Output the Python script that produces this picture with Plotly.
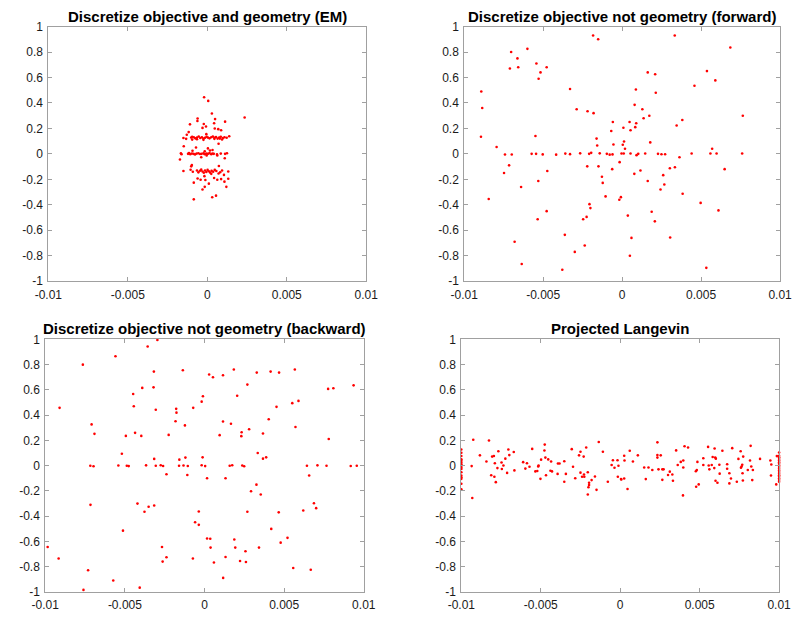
import plotly.graph_objects as go

# x values are given in units of 1e-3 (X_UNIT), y values in plain units
X_UNIT = 1e-3

titles = [
    "Discretize objective and geometry (EM)",
    "Discretize objective not geometry (forward)",
    "Discretize objective not geometry (backward)",
    "Projected Langevin",
]

x_tick_vals = [-0.01, -0.005, 0, 0.005, 0.01]
x_tick_text = ["-0.01", "-0.005", "0", "0.005", "0.01"]
y_tick_vals = [-1, -0.8, -0.6, -0.4, -0.2, 0, 0.2, 0.4, 0.6, 0.8, 1]
y_tick_text = ["-1", "-0.8", "-0.6", "-0.4", "-0.2", "0", "0.2", "0.4", "0.6", "0.8", "1"]

# ---------------- Panel 1: EM ----------------
em_x = [
    -0.20, 0.06, 2.35, 0.29, -0.61, 0.49, 1.12, -0.62, -1.09, -0.22, -0.08, 0.43, -0.30, 0.47, 0.69, 0.87,
    -1.17, -1.29, -0.06,
    -1.50, -1.33, -1.01, -0.95, -0.85, -0.75, -0.65, -0.54, -0.44, -0.34, -0.24, -0.14, -0.04, 0.04,
    0.14, 0.25, 0.35, 0.45, 0.55, 0.65, 0.75, 0.85, 0.98, 1.08, 1.22, 1.38,
    -0.95, -0.65, -0.24, 0.45, 0.79, 0.93,
    -1.48, 0.71, -0.71, 0.04, 0.17, -0.93, -0.16, 0.33,
    -1.66, -1.62, -1.21, -1.15, -1.07, -0.97, -0.87, -0.77, -0.67, -0.56, -0.46, -0.36, -0.24, -0.16,
    -0.06, 0.04, 0.14, 0.25, 0.33, 0.41, 0.61, 0.85, 1.12, 1.24,
    -1.72, -0.38, -0.04, 0.63, 1.10, -0.97, -1.01, 0.73,
    -1.50, -1.05, -0.91, -0.65, -0.56, -0.46, -0.38, -0.30, -0.22, -0.14, -0.06, 0.02, 0.10, 0.18,
    0.27, 0.37, 0.47, 0.57, 0.81, 0.93, 1.32,
    0.25, -0.18, 0.71, 0.43, 0.63, 0.87, 1.05, 1.32, -0.61, -0.42, -0.12, 1.08, -0.85, 0.10, 1.20,
    -0.16, -0.30, 0.55, 0.31, -0.85,
]
em_y = [
    0.445, 0.416, 0.286, 0.317, 0.278, 0.273, 0.253, 0.258, 0.232, 0.235, 0.215, 0.240, 0.204, 0.199, 0.194, 0.186,
    0.171, 0.150, 0.155,
    0.125, 0.118, 0.128, 0.135, 0.130, 0.122, 0.128, 0.136, 0.125, 0.131, 0.120, 0.127, 0.134, 0.128,
    0.122, 0.130, 0.137, 0.126, 0.132, 0.120, 0.129, 0.135, 0.124, 0.130, 0.127, 0.138,
    0.112, 0.115, 0.110, 0.118, 0.120, 0.113,
    0.060, 0.079, 0.050, 0.043, 0.027, 0.025, 0.020, 0.030,
    0.004, -0.003, 0.000, 0.006, -0.002, 0.003, 0.000, -0.004, 0.002, 0.005, -0.001, 0.000, 0.004, -0.003,
    0.002, 0.000, 0.006, -0.002, 0.003, 0.000, -0.004, 0.002, 0.000, 0.005,
    -0.044, -0.027, -0.013, -0.013, -0.034, -0.088, -0.098, -0.095,
    -0.135, -0.125, -0.140, -0.130, -0.145, -0.133, -0.124, -0.138, -0.148, -0.130, -0.142, -0.126, -0.136, -0.147,
    -0.132, -0.140, -0.126, -0.135, -0.144, -0.130, -0.138,
    -0.157, -0.175, -0.154, -0.190, -0.203, -0.198, -0.165, -0.195, -0.193, -0.203, -0.205, -0.218, -0.226, -0.234, -0.259,
    -0.259, -0.280, -0.328, -0.341, -0.357,
]

# ---------------- Panel 2: forward ----------------
fwd_x = [
    -1.84, -1.52, -7.03, -6.00, -6.63, -7.11, -6.58, -5.43, -5.17, -4.78, -5.29, -8.92, -3.30, -8.86, -2.88,
    -2.19, -1.81, -0.59, -0.69, -8.94, -5.49, -1.62, -1.58, -0.55, -7.95,
    3.33, 6.85, 1.62, 2.09, 5.37, 5.90, 4.58, 0.87, 2.13, 0.79, 1.28, 1.72, 1.36, 7.64, 3.81, 3.45, 0.47,
    0.89, 0.08, 0.83, 0.53, 0.12, 0.04, 0.18, 1.78, 5.70,
    -7.42, -6.99, -5.73, -5.45, -5.03, -4.18, -3.60, -3.30, -2.66, -2.09, -1.96, -1.42, -0.97, -0.79, -0.61,
    -0.04, 0.10, 0.53, 0.91, 1.02, 1.46, 2.27, 2.49, 2.72, 3.63, 4.40, 5.59, 5.98, 7.60,
    -0.16, -7.16, -2.21, -1.50, -0.63, -7.48, -4.74, -1.28, -5.31, -1.23, -6.40, -1.05, -0.08, -0.18, -8.45,
    -2.07, -2.01, -4.78, -2.25, -2.47, -5.35, -3.63, -6.81, -2.37, -3.00, -6.36, -3.79,
    0.77, 1.16, 3.02, 3.34, 2.60, 6.49, 1.62, 2.67, 2.43, 3.83, 4.97, 6.10, 1.87, 0.36, 2.07, 0.59, 3.04,
    0.49, 5.33,
]
fwd_y = [
    0.930, 0.900, 0.800, 0.825, 0.750, 0.670, 0.680, 0.710, 0.640, 0.680, 0.590, 0.490, 0.510, 0.360, 0.350,
    0.335, 0.320, 0.250, 0.180, 0.135, 0.140, 0.120, 0.066, 0.074, 0.054,
    0.930, 0.835, 0.640, 0.625, 0.650, 0.577, 0.535, 0.505, 0.480, 0.385, 0.350, 0.300, 0.280, 0.300, 0.266,
    0.223, 0.250, 0.240, 0.205, 0.210, 0.185, 0.097, 0.072, 0.040, 0.090, 0.040,
    -0.005, -0.005, 0.000, 0.000, -0.004, -0.006, 0.002, -0.002, 0.004, 0.000, 0.008, 0.004, 0.000, -0.006, -0.004,
    0.003, 0.003, 0.003, -0.010, 0.000, 0.003, 0.000, -0.003, -0.003, -0.026, 0.003, 0.003, 0.003, 0.003,
    -0.065, -0.090, -0.098, -0.098, -0.120, -0.150, -0.134, -0.180, -0.213, -0.228, -0.260, -0.334, -0.340, -0.360, -0.354,
    -0.395, -0.426, -0.450, -0.495, -0.513, -0.513, -0.636, -0.690, -0.720, -0.770, -0.865, -0.910,
    -0.157, -0.130, -0.113, -0.105, -0.167, -0.120, -0.213, -0.240, -0.280, -0.313, -0.385, -0.444, -0.454, -0.485,
    -0.530, -0.660, -0.657, -0.800, -0.895,
]

# ---------------- Panel 3: backward ----------------
bwd_x = [
    -2.96, -3.57, -5.59, -7.64, -1.36, -3.18, -3.91, -3.20, -4.48, -0.10, -0.18, -9.10, -4.44, -3.06, -1.78,
    -0.71, -1.76, -1.82, -7.09, -1.23, -6.91, -4.36, -4.94, -3.97, -2.25, -5.19, -3.16, -1.58, -1.20, -0.12,
    1.84, 0.29, 0.53, 1.16, 3.28, 4.15, 4.68, 5.67, 2.69, 7.76, 8.09, 9.36, 2.05, 5.51, 5.90, 4.52, 4.03,
    1.16, 1.66, 5.71, 2.80, 2.33, 2.31, 0.95, 3.67, 7.80, 3.34, 3.87, 3.67,
    -7.17, -6.97, -5.41, -4.88, -4.76, -3.67, -3.06, -2.75, -2.60, -1.60, -1.32, -1.05, -0.18, 0.04, 1.58,
    1.74, 2.37, 2.49, 6.43, 7.09, 7.66, 9.18, 9.56,
    -2.39, -1.08, 0.16, -7.16, -4.21, -3.51, -3.16, -3.77, -0.36, -0.59, -0.36, -5.12, 0.16, -9.85, -2.67,
    -9.16, -2.39, -2.63, -0.73, -7.31, -5.73, -7.60, -4.07,
    1.32, 6.57, 3.26, 2.92, 3.53, 6.87, 7.01, 6.20, 2.69, 4.66, 4.19, 0.36, 1.87, 5.21, 4.78, 0.38, 1.93,
    2.57, 3.42, 1.32, 0.59, 2.23, 2.60, 5.57, 6.67, 1.17,
]
bwd_y = [
    0.995, 0.943, 0.866, 0.800, 0.755, 0.745, 0.616, 0.620, 0.567, 0.550, 0.507, 0.458, 0.471, 0.443, 0.450,
    0.458, 0.420, 0.352, 0.327, 0.319, 0.252, 0.260, 0.236, 0.236, 0.244, 0.095, 0.054, 0.048, 0.064, 0.066,
    0.762, 0.722, 0.700, 0.716, 0.737, 0.745, 0.737, 0.762, 0.642, 0.608, 0.613, 0.636, 0.554, 0.495, 0.513,
    0.466, 0.368, 0.350, 0.332, 0.306, 0.288, 0.265, 0.234, 0.242, 0.255, 0.211, 0.100, 0.066, 0.056,
    0.000, -0.004, 0.002, 0.000, -0.003, 0.003, 0.000, 0.004, -0.002, 0.000, 0.002, -0.002, 0.004, -0.003, 0.000,
    0.004, 0.002, -0.004, 0.000, 0.003, 0.000, -0.002, 0.000,
    -0.068, -0.073, -0.099, -0.310, -0.300, -0.325, -0.315, -0.364, -0.362, -0.447, -0.468, -0.514, -0.576, -0.643,
    -0.643, -0.735, -0.725, -0.759, -0.735, -0.828, -0.909, -0.983, -0.965,
    -0.099, -0.078, -0.150, -0.202, -0.228, -0.297, -0.336, -0.354, -0.364, -0.369, -0.500, -0.578, -0.584,
    -0.571, -0.609, -0.648, -0.648, -0.677, -0.648, -0.723, -0.766, -0.754, -0.762, -0.810, -0.824, -0.888,
]

# ---------------- Panel 4: projected Langevin ----------------
pl_x = [
    -9.25, -8.26, -4.75, -1.35, -5.54, -3.05, -2.14, -1.09, -7.04, -6.70, -7.67, -4.77, -2.50, -8.83, -8.06,
    -7.95, -6.98, -2.59, -2.30, -7.23, -8.42, -7.47, -7.89, -4.98, -4.71, -4.53, -4.35, -6.11, -5.87, -3.92,
    -3.82, -3.52, -0.46, -0.17, -0.54, -0.36, -0.11, -9.35, -7.73, -7.35, -7.45, -5.97, -5.71, -6.66, -5.14,
    -5.16, -5.22, -5.34, -4.39, -4.29, -7.12, -8.12, -7.92, -3.94, -3.42, -4.67, -5.02, -2.97, -2.50, -2.04,
    -2.28, -2.40, -2.26, -2.83, -1.59, -1.80, -3.52, -1.96, -1.96, -2.00, -1.49, -2.04, -0.78, -0.15, 0.07,
    -7.83, -9.31,
    -10.0, -10.0, -10.0, -10.0, -10.0, -10.0, -10.0, -10.0, -10.0, -10.0, -10.0, -10.0, -10.0, -10.0, -10.0, -10.0,
    2.34, 8.21, 4.05, 4.27, 5.53, 5.94, 7.05, 0.60, 3.52, 6.43, 7.58, 0.25, 1.11, 2.34, 2.55, 2.34, 5.82,
    5.98, 6.02, 7.74, 7.44, 8.80, 9.45, 0.27, 0.80, 3.81, 3.97, 4.86, 5.23, 8.17, 3.62, 5.57, 5.76, 6.24,
    6.73, 5.23, 7.68, 7.64, 7.60, 8.25, 9.51, 1.51, 1.78, 2.02, 2.41, 2.65, 2.73, 3.97, 4.82, 4.76, 5.61,
    5.92, 6.73, 8.03, 8.35, 3.12, 3.01, 3.28, 6.26, 6.87, 7.70, 9.49, 0.05, 0.25, 1.61, 2.65, 3.32, 6.97,
    6.00, 6.12, 7.34, 7.72, 8.31, 6.87, 4.94, 4.78, 9.82, 0.46, 3.95, 9.86,
    10.0, 10.0, 10.0, 10.0, 10.0, 10.0, 10.0, 10.0, 10.0, 10.0, 10.0, 10.0, 10.0, 10.0, 10.0, 10.0, 10.0, 10.0,
]
pl_y = [
    0.206, 0.200, 0.167, 0.188, 0.133, 0.131, 0.144, 0.110, 0.128, 0.108, 0.115, 0.120, 0.110, 0.082, 0.072,
    0.077, 0.084, 0.082, 0.072, 0.056, 0.033, 0.025, 0.020, 0.048, 0.064, 0.050, 0.033, 0.028, 0.020, 0.017,
    0.017, 0.035, 0.043, 0.043, 0.005, -0.016, 0.000, -0.003, -0.019, 0.002, -0.026, -0.023, -0.008, -0.037, 0.001,
    -0.006, -0.042, -0.045, -0.040, -0.045, -0.057, -0.075, -0.088, -0.065, -0.065, -0.075, -0.104, -0.008, -0.055, -0.052,
    -0.070, -0.088, -0.088, -0.099, -0.086, -0.114, -0.127, -0.135, -0.153, -0.171, -0.191, -0.228, -0.127, -0.088, -0.109,
    -0.130, -0.256,
    0.128, 0.103, 0.077, 0.051, 0.039, 0.025, 0.012, -0.001, -0.014, -0.026, -0.052, -0.078, -0.091, -0.104, -0.143, -0.186,
    0.185, 0.157, 0.154, 0.144, 0.149, 0.136, 0.139, 0.118, 0.121, 0.118, 0.115, 0.079, 0.082, 0.084, 0.082, 0.064, 0.069,
    0.064, 0.056, 0.072, 0.054, 0.054, 0.041, 0.041, 0.033, 0.030, 0.041, 0.030, 0.059, 0.041, 0.005, 0.002, 0.005, 0.007,
    0.012, 0.005, 0.007, -0.006, -0.016, -0.006, 0.010, -0.014, -0.014, -0.034, -0.029, -0.029, -0.029, -0.014, -0.034, -0.044, -0.029,
    -0.019, -0.024, -0.034, -0.034, -0.047, -0.073, -0.070, -0.063, -0.060, -0.060, -0.078, -0.106, -0.101, -0.106, -0.112, -0.119, -0.101,
    -0.119, -0.135, -0.127, -0.117, -0.114, -0.140, -0.148, -0.166, -0.148, -0.184, -0.235, 0.076,
    0.105, 0.079, 0.066, 0.054, 0.041, 0.028, 0.015, 0.002, -0.011, -0.024, -0.037, -0.050, -0.063, -0.075, -0.088, -0.101, -0.114, -0.127,
]

panels = [(em_x, em_y), (fwd_x, fwd_y), (bwd_x, bwd_y), (pl_x, pl_y)]

# ---------------- layout geometry (window pixels; body margin removed) ----------------
W, H = 803, 623
screen_domains = [
    ((35.5, 364.0), (20, 280.5)),
    ((465.3, 791.7), (20, 280.5)),
    ((32.3, 361.5), (340, 598.5)),
    ((462.3, 790.7), (340, 598.5)),
]

FONT = "Liberation Sans, Arial, Helvetica, sans-serif"
AXIS_COLOR = "#a0a0a0"

fig = go.Figure()
layout = dict(
    width=W, height=H,
    margin=dict(l=0, r=0, t=0, b=0),
    paper_bgcolor="white", plot_bgcolor="white",
    showlegend=False,
    font=dict(family=FONT, color="#262626"),
    annotations=[],
)

for i, ((xs, ys), ((x0, x1), (yt, yb)), title) in enumerate(zip(panels, screen_domains, titles)):
    n = "" if i == 0 else str(i + 1)
    fig.add_trace(go.Scatter(
        x=[v * X_UNIT for v in xs], y=ys, mode="markers",
        marker=dict(color="#ff0000", size=2.6, line=dict(width=0)),
        xaxis="x" + n, yaxis="y" + n, cliponaxis=False, hoverinfo="skip",
    ))
    xd = [x0 / W, x1 / W]
    yd = [1 - yb / H, 1 - yt / H]
    common = dict(
        showline=True, linecolor=AXIS_COLOR, linewidth=1, mirror="ticks",
        ticks="inside", ticklen=4, tickcolor=AXIS_COLOR, tickwidth=1,
        showgrid=False, zeroline=False, fixedrange=True,
        tickfont=dict(family=FONT, size=12, color="#1a1a1a"),
        ticklabelstandoff=2, ticklabeloverflow="allow",
    )
    layout["xaxis" + n] = dict(
        domain=xd, range=[-0.01, 0.01], tickvals=x_tick_vals, ticktext=x_tick_text,
        anchor="y" + n, **common,
    )
    layout["yaxis" + n] = dict(
        domain=yd, range=[-1, 1], tickvals=y_tick_vals, ticktext=y_tick_text,
        anchor="x" + n, **common,
    )
    layout["annotations"].append(dict(
        text="<b>" + title + "</b>", xref="paper", yref="paper",
        x=(xd[0] + xd[1]) / 2, y=yd[1], xanchor="center", yanchor="bottom",
        yshift=0, showarrow=False,
        font=dict(family=FONT, size=15, color="#000000"),
    ))

fig.update_layout(**layout)
fig.write_html(
    "out.html",
    config={"displayModeBar": False, "staticPlot": True},
    post_script="document.body.style.margin='0';document.body.style.overflow='hidden';",
)
